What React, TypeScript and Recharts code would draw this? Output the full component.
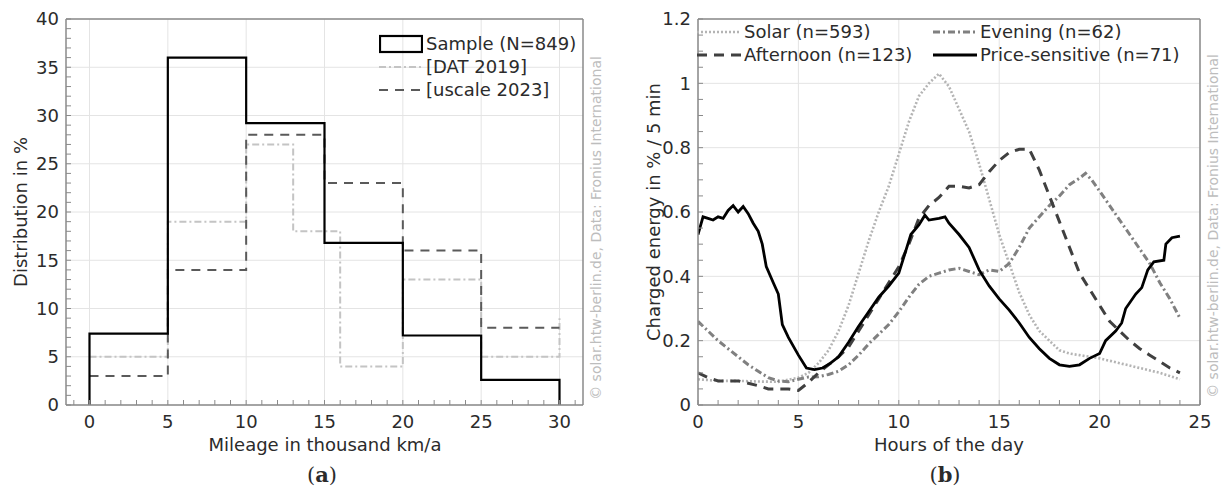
import React from "react";
import { LineChart, Line, XAxis, YAxis, CartesianGrid } from "recharts";

const FONT = '"DejaVu Sans", Verdana, sans-serif';
const INK = "#2b2b2b";
const AXIS = "#8a8a8a";
const GRID = "#e4e4e4";
const WATERMARK = "© solar.htw-berlin.de, Data: Fronius International";

// ---- (a) mileage distribution, drawn as steps (x = bin start, last point closes the bar)
const sampleEdges = [0, 0, 5, 10, 15, 20, 25, 30];
const sampleShare = [0, 7.4, 36, 29.2, 16.8, 7.2, 2.6, 0];
const datEdges = [0, 5, 10, 13, 16, 20, 25, 30];
const datShare = [5, 19, 27, 18, 4, 13, 5, 9];
const uscaleEdges = [0, 5, 10, 15, 20, 25, 30];
const uscaleShare = [3, 14, 28, 23, 16, 8, 8];

// ---- (b) charged energy per 5 min by cluster
const solarHours = [0, 1, 2, 3, 4, 5, 5.5, 6, 6.5, 7, 7.5, 8, 8.5, 9, 9.5, 10, 10.5, 11, 11.5, 12, 12.5, 13, 13.5, 14, 14.5, 15, 15.5, 16, 16.5, 17, 17.5, 18, 18.5, 19, 20, 21, 22, 23, 24];
const solarEnergy = [0.08, 0.075, 0.075, 0.073, 0.072, 0.085, 0.1, 0.13, 0.17, 0.23, 0.31, 0.41, 0.51, 0.6, 0.68, 0.78, 0.88, 0.96, 1.0, 1.03, 0.99, 0.92, 0.85, 0.75, 0.64, 0.53, 0.44, 0.35, 0.28, 0.23, 0.2, 0.17, 0.16, 0.155, 0.145, 0.13, 0.115, 0.1, 0.08];

const afternoonHours = [0, 0.5, 1, 2, 3, 3.5, 4, 4.5, 5, 5.5, 6, 6.5, 7, 7.5, 8, 8.5, 9, 9.5, 10, 10.5, 11, 11.5, 12, 12.5, 13, 13.5, 14, 14.5, 15, 15.5, 16, 16.5, 17, 17.5, 18, 18.5, 19, 19.5, 20, 20.5, 21, 21.5, 22, 22.5, 23, 23.5, 24];
const afternoonEnergy = [0.1, 0.085, 0.075, 0.075, 0.06, 0.05, 0.05, 0.05, 0.045, 0.07, 0.1, 0.125, 0.15, 0.18, 0.23, 0.28, 0.33, 0.38, 0.43, 0.5, 0.58, 0.62, 0.645, 0.68, 0.68, 0.675, 0.685, 0.725, 0.76, 0.785, 0.795, 0.795, 0.73, 0.65, 0.57, 0.49, 0.41, 0.36, 0.31, 0.26, 0.23, 0.2, 0.175, 0.155, 0.135, 0.115, 0.1];

const eveningHours = [0, 0.5, 1, 1.5, 2, 2.5, 3, 3.5, 4, 4.5, 5, 5.5, 6, 6.5, 7, 7.5, 8, 8.5, 9, 9.5, 10, 10.5, 11, 11.5, 12, 12.5, 13, 13.5, 14, 14.5, 15, 15.5, 16, 16.5, 17, 17.5, 18, 18.5, 19, 19.3, 19.6, 20, 20.5, 21, 21.5, 22, 22.5, 23, 23.5, 24];
const eveningEnergy = [0.26, 0.23, 0.2, 0.175, 0.15, 0.125, 0.105, 0.085, 0.075, 0.072, 0.08, 0.087, 0.088, 0.095, 0.105, 0.125, 0.155, 0.19, 0.22, 0.25, 0.29, 0.335, 0.375, 0.4, 0.41, 0.42, 0.425, 0.415, 0.405, 0.42, 0.415, 0.44, 0.49, 0.55, 0.585, 0.62, 0.65, 0.685, 0.705, 0.72, 0.7, 0.665, 0.62, 0.575, 0.53, 0.485, 0.44, 0.38, 0.33, 0.27];

const priceHours = [0, 0.25, 0.5, 0.75, 1, 1.25, 1.5, 1.75, 2, 2.25, 2.5, 2.75, 3, 3.2, 3.4, 3.75, 4, 4.2, 4.5, 5, 5.4, 5.8, 6.2, 6.6, 7, 7.5, 8, 8.5, 9, 9.5, 10, 10.3, 10.6, 11, 11.3, 11.5, 12, 12.3, 12.5, 13, 13.5, 14, 14.5, 15, 15.5, 16, 16.5, 17, 17.5, 18, 18.5, 19, 19.5, 20, 20.3, 20.8, 21.1, 21.3, 21.8, 22.1, 22.4, 22.7, 23.2, 23.3, 23.6, 24];
const priceEnergy = [0.53, 0.585, 0.58, 0.575, 0.585, 0.58, 0.605, 0.62, 0.6, 0.617, 0.595, 0.565, 0.54, 0.5, 0.43, 0.38, 0.345, 0.25, 0.21, 0.155, 0.115, 0.11, 0.115, 0.13, 0.15, 0.195, 0.245, 0.29, 0.335, 0.37, 0.41, 0.47, 0.53, 0.56, 0.59, 0.575, 0.58, 0.585, 0.565, 0.53, 0.49, 0.42, 0.37, 0.33, 0.295, 0.255, 0.21, 0.175, 0.145, 0.125, 0.12, 0.125, 0.145, 0.16, 0.2, 0.23, 0.255, 0.3, 0.345, 0.365, 0.42, 0.445, 0.45, 0.5, 0.52, 0.525];

// axis ticks
const mileageTicks = [0, 5, 10, 15, 20, 25, 30];
const shareTicks = [0, 5, 10, 15, 20, 25, 30, 35, 40];
const hourTicks = [0, 5, 10, 15, 20, 25];
const energyTicks = [0, 0.2, 0.4, 0.6, 0.8, 1, 1.2];

const pts = (xs: number[], ys: number[]) => xs.map((x, i) => ({ x, y: ys[i] }));
const range = (a: number, b: number, step: number) => {
  const out: number[] = [];
  for (let i = 0; a + i * step <= b + 1e-9; i++) out.push(+(a + i * step).toFixed(4));
  return out;
};
const isIn = (list: number[]) => (v: number) => list.some((t) => Math.abs(t - v) < 1e-6);

function tickRenderer(major: number[], side: "left" | "bottom") {
  const show = isIn(major);
  return (props: any) => {
    const { x, y, payload } = props;
    if (!show(payload.value)) return <g />;
    return (
      <text
        x={x}
        y={y}
        dy={side === "bottom" ? "0.75em" : "0.36em"}
        textAnchor={side === "bottom" ? "middle" : "end"}
        fill={INK}
        fontSize={18}
        fontFamily={FONT}
      >
        {String(+payload.value.toFixed(2))}
      </text>
    );
  };
}

// box with inward ticks on all four sides, labels on left/bottom.
// axis sizes: left 40, bottom 30, top 1, right 1 (margins are set to match)
function frame(
  xDomain: [number, number],
  yDomain: [number, number],
  xMinor: number[],
  yMinor: number[],
  xMajor: number[],
  yMajor: number[]
) {
  const common = {
    type: "number" as const,
    allowDataOverflow: true,
    interval: 0 as const,
    tickSize: -5,
    stroke: AXIS,
    axisLine: { stroke: AXIS, strokeWidth: 1.5 },
    tickLine: { stroke: AXIS },
  };
  return [
    <CartesianGrid key="g" stroke={GRID} horizontalValues={yMajor} verticalValues={xMajor} />,
    <XAxis key="xb" xAxisId={0} dataKey="x" {...common} domain={xDomain} ticks={xMinor} height={30} tickMargin={14} tick={tickRenderer(xMajor, "bottom")} />,
    <XAxis key="xt" xAxisId="top" orientation="top" {...common} domain={xDomain} ticks={xMinor} height={1} tick={false} />,
    <YAxis key="yl" yAxisId={0} {...common} domain={yDomain} ticks={yMinor} width={40} tickMargin={12} tick={tickRenderer(yMajor, "left")} />,
    <YAxis key="yr" yAxisId="right" orientation="right" {...common} domain={yDomain} ticks={yMinor} width={1} tick={false} />,
  ];
}

function LegendRow({ icon, label }: { icon: React.ReactNode; label: string }) {
  return (
    <div style={{ display: "flex", alignItems: "center", height: 23 }}>
      <svg width={44} height={20} style={{ marginRight: 3 }}>{icon}</svg>
      <span>{label}</span>
    </div>
  );
}

const dash = (stroke: string, dasharray: string, w: number) => (
  <line x1={0} x2={44} y1={10} y2={10} stroke={stroke} strokeWidth={w} strokeDasharray={dasharray} />
);

function Rotated({ x, y, size, color, children }: { x: number; y: number; size: number; color: string; children: string }) {
  return (
    <div
      style={{
        position: "absolute",
        left: x,
        top: y,
        transform: "translate(-50%, -50%) rotate(-90deg)",
        whiteSpace: "nowrap",
        fontSize: size,
        color,
      }}
    >
      {children}
    </div>
  );
}

function Centered({ x, y, children, style }: { x: number; y: number; children: React.ReactNode; style?: React.CSSProperties }) {
  return (
    <div style={{ position: "absolute", left: x, top: y, transform: "translate(-50%, -50%)", whiteSpace: "nowrap", ...style }}>
      {children}
    </div>
  );
}

export default function App() {
  const captionStyle: React.CSSProperties = { fontFamily: '"DejaVu Serif", "Liberation Serif", serif', fontSize: 21 };
  return (
    <div
      style={{
        position: "absolute",
        left: 0,
        top: 0,
        width: 1222,
        height: 490,
        background: "#fff",
        fontFamily: FONT,
        fontSize: 18,
        color: INK,
        overflow: "hidden",
      }}
    >
      {/* (a) */}
      <div style={{ position: "absolute", left: 0, top: 0 }}>
        <LineChart width={610} height={490} margin={{ top: 18, right: 26, bottom: 55, left: 26 }}>
          {frame([-1.5, 31.5], [0, 40], range(-1, 31, 1), range(0, 40, 1), mileageTicks, shareTicks)}
          <Line data={pts(datEdges, datShare)} dataKey="y" type="stepAfter" stroke="#c4c4c4" strokeWidth={2} strokeDasharray="7 3 2 3" dot={false} isAnimationActive={false} />
          <Line data={pts(uscaleEdges, uscaleShare)} dataKey="y" type="stepAfter" stroke="#5a5a5a" strokeWidth={2} strokeDasharray="9 7" dot={false} isAnimationActive={false} />
          <Line data={pts(sampleEdges, sampleShare)} dataKey="y" type="stepAfter" stroke="#000" strokeWidth={2.2} dot={false} isAnimationActive={false} />
        </LineChart>
      </div>
      <div style={{ position: "absolute", left: 379, top: 32 }}>
        <LegendRow icon={<rect x={1} y={2} width={42} height={16} fill="none" stroke="#000" strokeWidth={2.2} />} label="Sample (N=849)" />
        <LegendRow icon={dash("#c4c4c4", "7 3 2 3", 2)} label="[DAT 2019]" />
        <LegendRow icon={dash("#5a5a5a", "9 7", 2)} label="[uscale 2023]" />
      </div>
      <Rotated x={20} y={212} size={18} color={INK}>Distribution in %</Rotated>
      <Centered x={325} y={444}>Mileage in thousand km/a</Centered>
      <Centered x={322} y={474} style={captionStyle}>
        (<b>a</b>)
      </Centered>
      <Rotated x={596} y={228} size={14} color="#bdbdbd">{WATERMARK}</Rotated>

      {/* (b) */}
      <div style={{ position: "absolute", left: 611, top: 0 }}>
        <LineChart width={611} height={490} margin={{ top: 18, right: 21, bottom: 55, left: 47 }}>
          {frame([0, 25], [0, 1.2], range(0, 25, 1), range(0, 1.2, 0.05), hourTicks, energyTicks)}
          <Line data={pts(solarHours, solarEnergy)} dataKey="y" stroke="#b4b4b4" strokeWidth={2.6} strokeDasharray="2 2" dot={false} isAnimationActive={false} />
          <Line data={pts(eveningHours, eveningEnergy)} dataKey="y" stroke="#808080" strokeWidth={3} strokeDasharray="7 3 2 3" dot={false} isAnimationActive={false} />
          <Line data={pts(afternoonHours, afternoonEnergy)} dataKey="y" stroke="#404040" strokeWidth={3} strokeDasharray="10 7" dot={false} isAnimationActive={false} />
          <Line data={pts(priceHours, priceEnergy)} dataKey="y" stroke="#000" strokeWidth={2.8} dot={false} isAnimationActive={false} />
        </LineChart>
      </div>
      <div style={{ position: "absolute", left: 697, top: 20 }}>
        <LegendRow icon={dash("#b4b4b4", "2 2", 2.6)} label="Solar (n=593)" />
        <LegendRow icon={dash("#404040", "10 7", 3)} label="Afternoon (n=123)" />
      </div>
      <div style={{ position: "absolute", left: 933, top: 20 }}>
        <LegendRow icon={dash("#808080", "7 3 2 3", 3)} label="Evening (n=62)" />
        <LegendRow icon={dash("#000", "", 2.8)} label="Price-sensitive (n=71)" />
      </div>
      <Rotated x={653} y={212} size={18} color={INK}>Charged energy in % / 5 min</Rotated>
      <Centered x={949} y={444}>Hours of the day</Centered>
      <Centered x={945} y={474} style={captionStyle}>
        (<b>b</b>)
      </Centered>
      <Rotated x={1213} y={226} size={14} color="#bdbdbd">{WATERMARK}</Rotated>
    </div>
  );
}
